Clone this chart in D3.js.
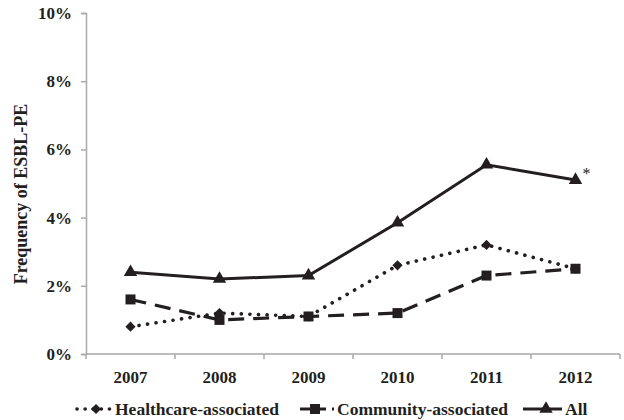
<!DOCTYPE html>
<html>
<head>
<meta charset="utf-8">
<script src="https://cdn.jsdelivr.net/npm/d3@7"></script>
<style>
  html, body { margin: 0; padding: 0; background: #fff; }
  svg text { font-family: "Liberation Serif", "Times New Roman", serif; font-weight: bold; fill: #231f20; }
</style>
</head>
<body>
<svg id="chart" width="624" height="420"></svg>
<script>
// Annual frequency of ESBL-PE, in percent
const years = ["2007", "2008", "2009", "2010", "2011", "2012"];
const healthcare = [0.8, 1.2, 1.1, 2.6, 3.2, 2.5];
const community = [1.6, 1.0, 1.1, 1.2, 2.3, 2.5];
const allCases = [2.4, 2.2, 2.3, 3.85, 5.55, 5.1];
const yTicks = [0, 2, 4, 6, 8, 10];
const seriesNames = ["Healthcare-associated", "Community-associated", "All"];

const svg = d3.select("#chart");
const ink = "#231f20";
const axisGrey = "#a7a9ac";

const x = d3.scaleBand().domain(years).range([86, 620]);
const y = d3.scaleLinear().domain([0, 10]).range([354, 13]);
const cx = d => x(d) + x.bandwidth() / 2;

// Y axis
const yAxis = svg.append("g").attr("transform", "translate(86,0)")
  .call(d3.axisLeft(y).tickValues(yTicks).tickFormat(d => d + "%").tickSize(5).tickPadding(9));
yAxis.select(".domain").attr("stroke", axisGrey).attr("stroke-width", 1.5);
yAxis.selectAll(".tick line").attr("stroke", axisGrey).attr("stroke-width", 1.5);
yAxis.selectAll("text").attr("font-size", 17).style("font-family", "Liberation Serif").style("font-weight", "bold").attr("fill", ink);

// X axis with ticks at the band boundaries
const xAxisG = svg.append("g").attr("transform", "translate(0,354)");
xAxisG.append("line").attr("x1", 86).attr("x2", 620).attr("y1", 0).attr("y2", 0)
  .attr("stroke", axisGrey).attr("stroke-width", 1.5);
const bounds = years.map(d => x(d)).concat([x.range()[1]]);
xAxisG.selectAll("line.tk").data(bounds).join("line").attr("class", "tk")
  .attr("x1", d => d).attr("x2", d => d).attr("y1", 0).attr("y2", 5)
  .attr("stroke", axisGrey).attr("stroke-width", 1.5);
xAxisG.selectAll("text").data(years).join("text")
  .attr("x", d => cx(d)).attr("y", 29).attr("text-anchor", "middle")
  .attr("font-size", 17).text(d => d);

// Y axis title
svg.append("text").attr("transform", "translate(27,194) rotate(-90)")
  .attr("text-anchor", "middle").attr("font-size", 18).text("Frequency of ESBL-PE");

const line = d3.line().x((d, i) => cx(years[i])).y(d => y(d));

const styles = [
  { data: healthcare, dash: "0.1 8.5", cap: "round", width: 3.6, symbol: d3.symbolSquare, size: 52, rot: 45 },
  { data: community, dash: "16 9", cap: "butt", width: 3.2, symbol: d3.symbolSquare, size: 100, rot: 0 },
  { data: allCases, dash: null, cap: "butt", width: 3, symbol: d3.symbolTriangle, size: 78, rot: 0 }
];

styles.forEach(s => {
  svg.append("path").datum(s.data).attr("d", line)
    .attr("fill", "none").attr("stroke", ink).attr("stroke-width", s.width)
    .attr("stroke-linecap", s.cap).attr("stroke-dasharray", s.dash);
  svg.append("g").selectAll("path").data(s.data).join("path")
    .attr("transform", (d, i) => `translate(${cx(years[i])},${y(d)}) rotate(${s.rot})`)
    .attr("d", d3.symbol().type(s.symbol).size(s.size)).attr("fill", ink);
});

// significance mark on the last overall value
svg.append("text").attr("x", cx("2012") + 7).attr("y", y(allCases[5]) - 1)
  .attr("font-size", 16).style("font-weight", "normal")
  .attr("fill", "#6d6e71").text("*");

// Legend
const legendY = 409;
const legendItems = [
  { x0: 77, x1: 110, mark: 96, text: 115 },
  { x0: 300, x1: 334, mark: 315, text: 337 },
  { x0: 523, x1: 562, mark: 546, text: 565 }
];
legendItems.forEach((li, k) => {
  const s = styles[k];
  svg.append("line").attr("x1", li.x0).attr("x2", li.x1).attr("y1", legendY).attr("y2", legendY)
    .attr("stroke", ink).attr("stroke-width", s.width).attr("stroke-linecap", s.cap)
    .attr("stroke-dasharray", k === 0 ? "0.1 8" : k === 1 ? "10 6" : null);
  svg.append("path").attr("transform", `translate(${li.mark},${legendY}) rotate(${s.rot})`)
    .attr("d", d3.symbol().type(s.symbol).size(s.size)).attr("fill", ink);
  svg.append("text").attr("x", li.text).attr("y", legendY + 6).attr("font-size", 17.5).text(seriesNames[k]);
});
</script>
</body>
</html>
